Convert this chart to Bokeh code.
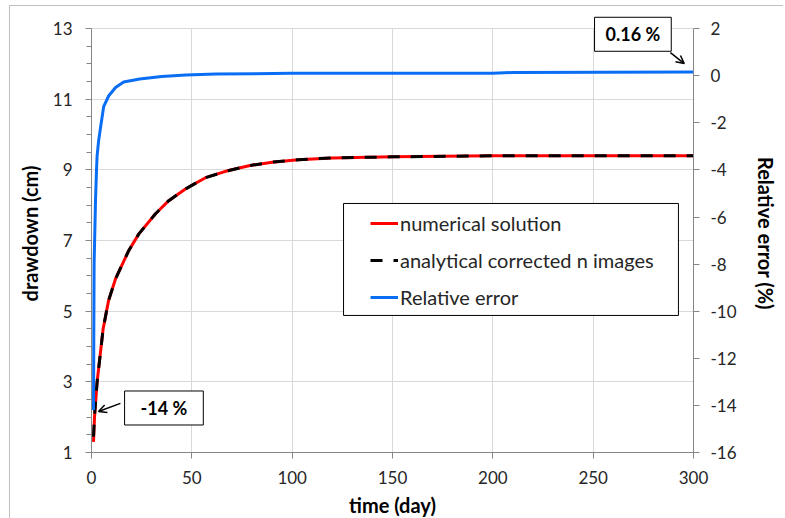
from bokeh.plotting import figure
from bokeh.models import (Range1d, LinearAxis, FixedTicker, Label, Arrow, OpenHead,
                          Legend, LegendItem, PrintfTickFormatter, BoxAnnotation)
from bokeh.embed import file_html
from bokeh.resources import INLINE

# ---- data ----
time_num = [1, 1.5, 2.8, 5.8, 8.5, 12, 18.6, 23.6, 31.9, 38.5, 46.8, 56.8, 66.8, 78.4, 90, 103, 120, 150, 200, 250, 300]
drawdown_num = [1.3, 2.0, 3.0, 4.5, 5.3, 5.92, 6.72, 7.19, 7.76, 8.13, 8.46, 8.78, 8.96, 9.12, 9.22, 9.29, 9.34, 9.37, 9.4, 9.4, 9.4]
time_ana = [1, 1.5, 2.8, 5.8, 8.5, 12, 18.6, 23.6, 31.9, 38.5, 46.8, 56.8, 66.8, 78.4, 90, 103, 120, 150, 200, 250, 300]
drawdown_ana = [1.45, 2.05, 3.0, 4.5, 5.3, 5.92, 6.72, 7.19, 7.76, 8.13, 8.46, 8.78, 8.96, 9.12, 9.22, 9.29, 9.34, 9.37, 9.4, 9.4, 9.4]
time_err = [1, 1.3, 2, 2.5, 2.8, 3.5, 4.5, 6.1, 8.6, 12, 16, 24, 35, 47, 62, 100, 200, 210, 300]
rel_err = [-14.2, -8.0, -5.3, -4.0, -3.4, -2.8, -2.2, -1.3, -0.85, -0.5, -0.27, -0.14, -0.03, 0.03, 0.07, 0.1, 0.1, 0.14, 0.16]

left_ticks = [1, 3, 5, 7, 9, 11, 13]
left_minor = [1.5, 2, 2.5, 3.5, 4, 4.5, 5.5, 6, 6.5, 7.5, 8, 8.5, 9.5, 10, 10.5, 11.5, 12, 12.5]
right_ticks = [-16, -14, -12, -10, -8, -6, -4, -2, 0, 2]
x_ticks = [0, 50, 100, 150, 200, 250, 300]

FONT = "Lato"
TXT = "#262626"

# The plotted area spans drawdown 1..13 (relative error -16..2); a small blank
# margin above it leaves room for the "0.16 %" call-out box.
Y_TOP = 13.4
ERR_TOP = 2 + (Y_TOP - 13) * 1.5

p = figure(frame_width=602, frame_height=438, output_backend="svg", toolbar_location=None,
           x_range=Range1d(0, 300), y_range=Range1d(1, Y_TOP),
           min_border_left=81, min_border_right=90, min_border_top=8, min_border_bottom=60)
p.margin = (5, 0, 0, 9)
p.styles = {"border-left": "1px solid #bfbfbf", "border-top": "1px solid #bfbfbf"}
p.extra_y_ranges = {"err": Range1d(-16, ERR_TOP)}
p.outline_line_color = None
p.background_fill_color = "white"

# grid
p.xgrid.ticker = FixedTicker(ticks=x_ticks)
p.ygrid.ticker = FixedTicker(ticks=left_ticks)
p.xgrid.grid_line_color = "#d9d9d9"
p.ygrid.grid_line_color = "#d9d9d9"
# blank band above the plotting area (hides grid lines there)
p.add_layout(BoxAnnotation(bottom=13.02, fill_color="white", fill_alpha=1, line_color=None,
                           level="underlay"))

# x axis
xa = p.xaxis[0]
xa.ticker = FixedTicker(ticks=x_ticks)
xa.axis_label = "time (day)"
# left axis
ya = p.yaxis[0]
ya.ticker = FixedTicker(ticks=left_ticks, minor_ticks=left_minor)
ya.axis_label = "drawdown (cm)"
ya.minor_tick_out = 5
ya.minor_tick_in = 0
ya.bounds = (1, 13)
# right axis
ra = LinearAxis(y_range_name="err", ticker=FixedTicker(ticks=right_ticks),
                axis_label="Relative error (%)", bounds=(-16, 2))
p.add_layout(ra, "right")

for ax in (xa, ya, ra):
    ax.formatter = PrintfTickFormatter(format="%d")
    ax.axis_line_color = "#868686"
    ax.major_tick_line_color = "#868686"
    ax.minor_tick_line_color = "#868686"
    ax.major_tick_out = 6
    ax.major_tick_in = 0
    ax.major_label_text_font = FONT
    ax.major_label_text_font_size = "17px"
    ax.major_label_text_color = TXT
    ax.axis_label_text_font = FONT
    ax.axis_label_text_font_size = "20px"
    ax.axis_label_text_font_style = "bold"
    ax.axis_label_text_color = "black"
xa.minor_tick_line_color = None
ra.minor_tick_line_color = None
xa.major_label_standoff = 12
xa.axis_label_standoff = 6
ya.major_label_standoff = 13
ya.axis_label_standoff = 8
ra.major_label_standoff = 11
ra.axis_label_standoff = 14

# lines
r_num = p.line(time_num, drawdown_num, line_color="#FF0000", line_width=3)
r_ana = p.line(time_ana, drawdown_ana, line_color="black", line_width=3, line_dash="12 11")
r_err = p.line(time_err, rel_err, line_color="#0A6EF5", line_width=3, y_range_name="err")

# legend frame (white box with black border)
p.add_layout(BoxAnnotation(left=125.6, right=292.5, top=8.05, bottom=4.88,
                           fill_color="white", fill_alpha=1, line_color="black",
                           line_width=1, line_alpha=1))

legend = Legend(items=[LegendItem(label="numerical solution", renderers=[r_num]),
                       LegendItem(label="analytical corrected n images", renderers=[r_ana]),
                       LegendItem(label="Relative error", renderers=[r_err])],
                location=(279, 143), orientation="vertical")
legend.label_text_font = FONT
legend.label_text_font_size = "20px"
legend.label_text_color = TXT
legend.glyph_width = 28
legend.glyph_height = 24
legend.label_standoff = 2
legend.spacing = 13
legend.padding = 0
legend.margin = 0
legend.border_line_color = None
legend.background_fill_alpha = 0
p.add_layout(legend, "center")

# annotations
lab1 = Label(x=36.1, y=2.26, text="-14 %", text_align="center", text_baseline="middle",
             text_font=FONT, text_font_size="18px", text_font_style="bold", text_color="black",
             border_line_color="black", border_line_width=1, background_fill_color="white",
             padding=dict(left=16, right=16, top=6, bottom=6))
lab2 = Label(x=269.8, y=12.84, text="0.16 %", text_align="center", text_baseline="middle",
             text_font=FONT, text_font_size="18px", text_font_style="bold", text_color="black",
             border_line_color="black", border_line_width=1, background_fill_color="white",
             padding=dict(left=11, right=11, top=6, bottom=6))
p.add_layout(lab1)
p.add_layout(lab2)
p.add_layout(Arrow(end=OpenHead(size=8, line_width=1.5), x_start=14.4, y_start=2.39,
                   x_end=3.5, y_end=2.16, line_width=1.5))
p.add_layout(Arrow(end=OpenHead(size=8, line_width=1.5), x_start=288.5, y_start=12.32,
                   x_end=295.4, y_end=12.01, line_width=1.5))

open("out.html", "w").write(file_html(p, INLINE))
